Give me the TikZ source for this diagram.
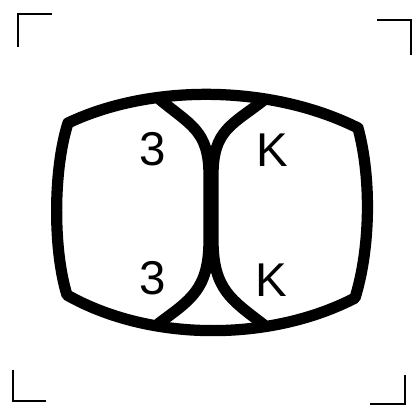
\documentclass[tikz,border=0pt]{standalone}
\usepackage{fontspec}
\setmainfont{Liberation Sans}
\usetikzlibrary{positioning}

\begin{document}
\begin{tikzpicture}[x=0.02cm, y=-0.02cm]
    \useasboundingbox (0,0) rectangle (417,405);
    \tikzset{mark line/.style={line width=1.7pt},
             outline/.style={line width=6.4pt, line join=round},
             letter/.style={font=\fontsize{27}{27}\selectfont}}

    % corner marks
    \draw[mark line] (18,47) -- (18,14) -- (52,14);
    \draw[mark line] (377,20) -- (411,20) -- (411,55);
    \draw[mark line] (13,370) -- (13,401) -- (46,401);
    \draw[mark line] (405,375) -- (405,404) -- (370,404);

    % outer shape
    \draw[outline] (68,123) .. controls (150,84) and (270,84) .. (358,128)
        .. controls (372,180) and (370,250) .. (355,298)
        .. controls (270,342) and (150,342) .. (67,295)
        .. controls (53,250) and (53,170) .. cycle;

    % inner arcs
    \draw[outline] (158,98) .. controls (190,125) and (209,130) .. (209,175)
        -- (209,240) .. controls (209,290) and (190,300) .. (158,324);
    \draw[outline] (264,100) .. controls (232,125) and (213,130) .. (213,175)
        -- (213,240) .. controls (213,290) and (232,300) .. (264,325);

    \node[letter] (tl) at (153,149) {3};
    \node[letter] (bl) at (153,278) {3};
    \node[letter] (tr) at (272,150) {K};
    \node[letter] (br) at (271,280) {K};
\end{tikzpicture}
\end{document}
